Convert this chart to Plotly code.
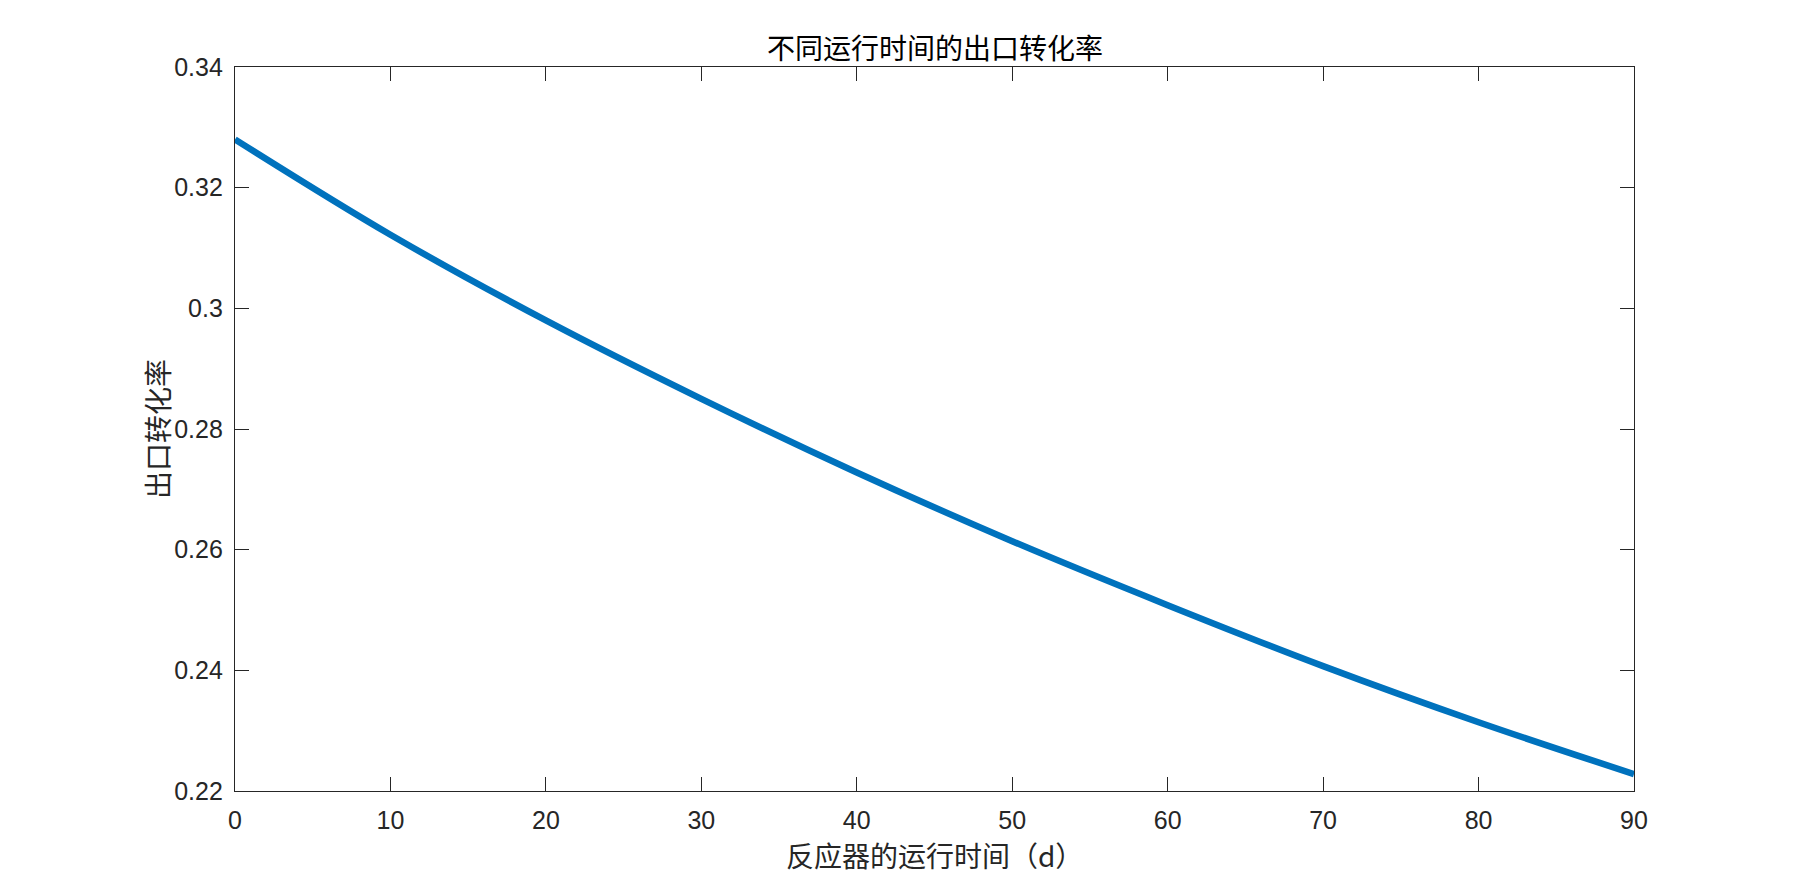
import plotly.graph_objects as go

# run time of the reactor (d) and outlet conversion
days = [0, 10, 20, 30, 40, 50, 60, 70, 80, 90]
conversion = [0.3280, 0.3122, 0.2980, 0.2850, 0.2728, 0.2614, 0.2508, 0.2407, 0.2314, 0.2228]

title_text = '不同运行时间的出口转化率'
x_label = '反应器的运行时间（d）'
y_label = '出口转化率'

x_ticks = [0, 10, 20, 30, 40, 50, 60, 70, 80, 90]
y_ticks = [0.22, 0.24, 0.26, 0.28, 0.30, 0.32, 0.34]
y_tick_text = ['0.22', '0.24', '0.26', '0.28', '0.3', '0.32', '0.34']

W, H = 1807, 890
# the page body adds an 8px offset, so the margins are shifted to compensate
left, right, top, bottom = 227, 181, 59, 107

cjk = 'Noto Sans CJK SC'
latin = 'Liberation Sans, Arial, Helvetica, sans-serif'

fig = go.Figure()
fig.add_trace(go.Scatter(x=days, y=conversion, mode='lines', line_shape='spline',
                         line=dict(color='#0072BD', width=6.5), showlegend=False))

axis_style = dict(showline=True, linecolor='#262626', linewidth=1.3, mirror='ticks',
                  ticks='inside', ticklen=14, tickwidth=1.3, tickcolor='#262626',
                  showgrid=False, zeroline=False,
                  tickfont=dict(family=latin, size=25, color='#262626'))

fig.update_xaxes(range=[0, 90], tickvals=x_ticks, ticklabelstandoff=7, **axis_style)
fig.update_yaxes(range=[0.22, 0.34], tickvals=y_ticks, ticktext=y_tick_text,
                 ticklabelstandoff=6, **axis_style)

fig.add_annotation(text=title_text, xref='paper', yref='paper', x=0.5, y=1,
                   yshift=20, xanchor='center', yanchor='middle', showarrow=False,
                   font=dict(family=cjk, size=28, color='#000000'))
fig.add_annotation(text=x_label, xref='paper', yref='paper', x=0.5, y=0,
                   yshift=-64, xanchor='center', yanchor='middle',
                   showarrow=False, font=dict(family=cjk, size=28, color='#262626'))
fig.add_annotation(text=y_label, xref='paper', yref='paper', x=0, y=0.5,
                   xshift=-78, xanchor='center', yanchor='middle', textangle=-90,
                   showarrow=False, font=dict(family=cjk, size=28, color='#262626'))

fig.update_layout(width=W, height=H, margin=dict(l=left, r=right, t=top, b=bottom),
                  paper_bgcolor='white', plot_bgcolor='white')
fig.write_html('out.html')
